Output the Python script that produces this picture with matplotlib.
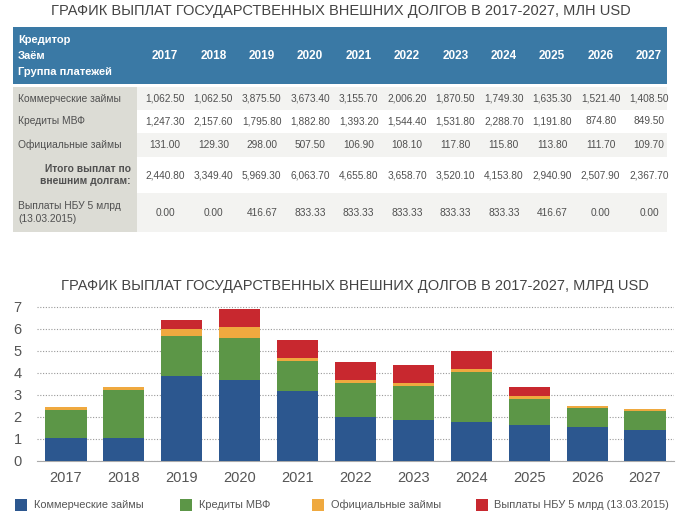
import matplotlib
matplotlib.use('Agg')
import matplotlib.pyplot as plt
from matplotlib.patches import Rectangle
import numpy as np

plt.rcParams['font.family'] = ['Liberation Sans', 'DejaVu Sans']

years = ['2017', '2018', '2019', '2020', '2021', '2022', '2023', '2024', '2025', '2026', '2027']
commercial = [1062.50, 1062.50, 3875.50, 3673.40, 3155.70, 2006.20, 1870.50, 1749.30, 1635.30, 1521.40, 1408.50]
imf = [1247.30, 2157.60, 1795.80, 1882.80, 1393.20, 1544.40, 1531.80, 2288.70, 1191.80, 874.80, 849.50]
official = [131.00, 129.30, 298.00, 507.50, 106.90, 108.10, 117.80, 115.80, 113.80, 111.70, 109.70]
totals = [2440.80, 3349.40, 5969.30, 6063.70, 4655.80, 3658.70, 3520.10, 4153.80, 2940.90, 2507.90, 2367.70]
nbu = [0.00, 0.00, 416.67, 833.33, 833.33, 833.33, 833.33, 833.33, 416.67, 0.00, 0.00]

series_names = ['Коммерческие займы', 'Кредиты МВФ', 'Официальные займы', 'Выплаты НБУ 5 млрд (13.03.2015)']
colors = ['#2c578f', '#5c9647', '#efa93f', '#c8282f']

title1 = 'ГРАФИК ВЫПЛАТ ГОСУДАРСТВЕННЫХ ВНЕШНИХ ДОЛГОВ В 2017-2027, МЛН USD'
title2 = 'ГРАФИК ВЫПЛАТ ГОСУДАРСТВЕННЫХ ВНЕШНИХ ДОЛГОВ В 2017-2027, МЛРД USD'

W, H = 680, 524
fig = plt.figure(figsize=(W / 100, H / 100), dpi=100)
fig.patch.set_facecolor('white')

# ---- table, drawn in pixel coordinates
tab = fig.add_axes([0, 0, 1, 1])
tab.set_xlim(0, W)
tab.set_ylim(H, 0)
tab.axis('off')

txt = '#505050'
tab.text(341, 11, title1, ha='center', va='center', fontsize=10.5, color='#444444')

left, right = 13, 667
lab_w = 124
col_x = 165 + 48.4 * np.arange(len(years))

tab.add_patch(Rectangle((left, 27), right - left, 57, color='#3a79a5', lw=0))
for i, s in enumerate(['Кредитор', 'Заём', 'Группа платежей']):
    tab.text(18, 40 + 16 * i, s, ha='left', va='center', fontsize=8,
             color='white', fontweight='bold')
for x, y in zip(col_x, years):
    tab.text(x, 56, y, ha='center', va='center', fontsize=8.5,
             color='white', fontweight='bold')

rows = [(87, 110, commercial, series_names[0]),
        (110, 133, imf, series_names[1]),
        (133, 157, official, series_names[2]),
        (157, 193, totals, 'Итого выплат по\nвнешним долгам:'),
        (193, 232, nbu, 'Выплаты НБУ 5 млрд\n(13.03.2015)')]
for k, (y0, y1, vals, label) in enumerate(rows):
    bg = '#f3f3f1' if k % 2 == 0 else 'white'
    tab.add_patch(Rectangle((left, y0), right - left, y1 - y0, color=bg, lw=0))
    tab.add_patch(Rectangle((left, y0), lab_w, y1 - y0, color='#dcdcd5', lw=0))
    ym = (y0 + y1) / 2
    if k == 3:
        tab.text(left + lab_w - 6, ym, label, ha='right', va='center', fontsize=7.4,
                 color=txt, fontweight='bold', linespacing=1.35)
    else:
        tab.text(left + 5, ym, label, ha='left', va='center', fontsize=7.4,
                 color=txt, linespacing=1.35)
    for x, v in zip(col_x, vals):
        tab.text(x, ym, f'{v:,.2f}', ha='center', va='center', fontsize=7.3, color=txt)

tab.text(355, 286, title2, ha='center', va='center', fontsize=10.5, color='#444444')

# ---- stacked bar chart (billions)
ax = fig.add_axes([37 / W, (H - 461) / H, 637 / W, 161 / H])
x = np.arange(len(years))
bottom = np.zeros(len(years))
bars = []
for vals, c in zip([commercial, imf, official, nbu], colors):
    v = np.array(vals) / 1000
    b = ax.bar(x, v, 0.71, bottom=bottom, color=c, zorder=3)
    bars.append(b)
    bottom += v

ax.set_xlim(-0.5, 10.5)
ax.set_ylim(0, 7.3)
ax.set_yticks(range(0, 8))
ax.set_xticks(x)
ax.set_xticklabels(years)
ax.yaxis.grid(True, linestyle=(0, (1, 1.5)), color='#999999', lw=0.8, zorder=0)
for s in ['top', 'right', 'left']:
    ax.spines[s].set_visible(False)
ax.spines['bottom'].set_color('#aaaaaa')
ax.tick_params(length=0, labelsize=10.5, colors='#555555')
ax.tick_params(axis='x', pad=7)
for lbl in ax.get_yticklabels():
    lbl.set_horizontalalignment('left')
ax.yaxis.set_tick_params(pad=17)

# ---- legend row
sq_x = [15, 180, 312, 476]
tx_x = [34, 199, 331, 494]
for c, name, sx, tx in zip(colors, series_names, sq_x, tx_x):
    fig.patches.append(Rectangle((sx / W, (H - 511) / H), 12 / W, 12 / H,
                                 transform=fig.transFigure, color=c, lw=0))
    fig.text(tx / W, (H - 505) / H, name, ha='left', va='center',
             fontsize=7.9, color='#555555')

fig.savefig('out.png', dpi=100, facecolor='white')
